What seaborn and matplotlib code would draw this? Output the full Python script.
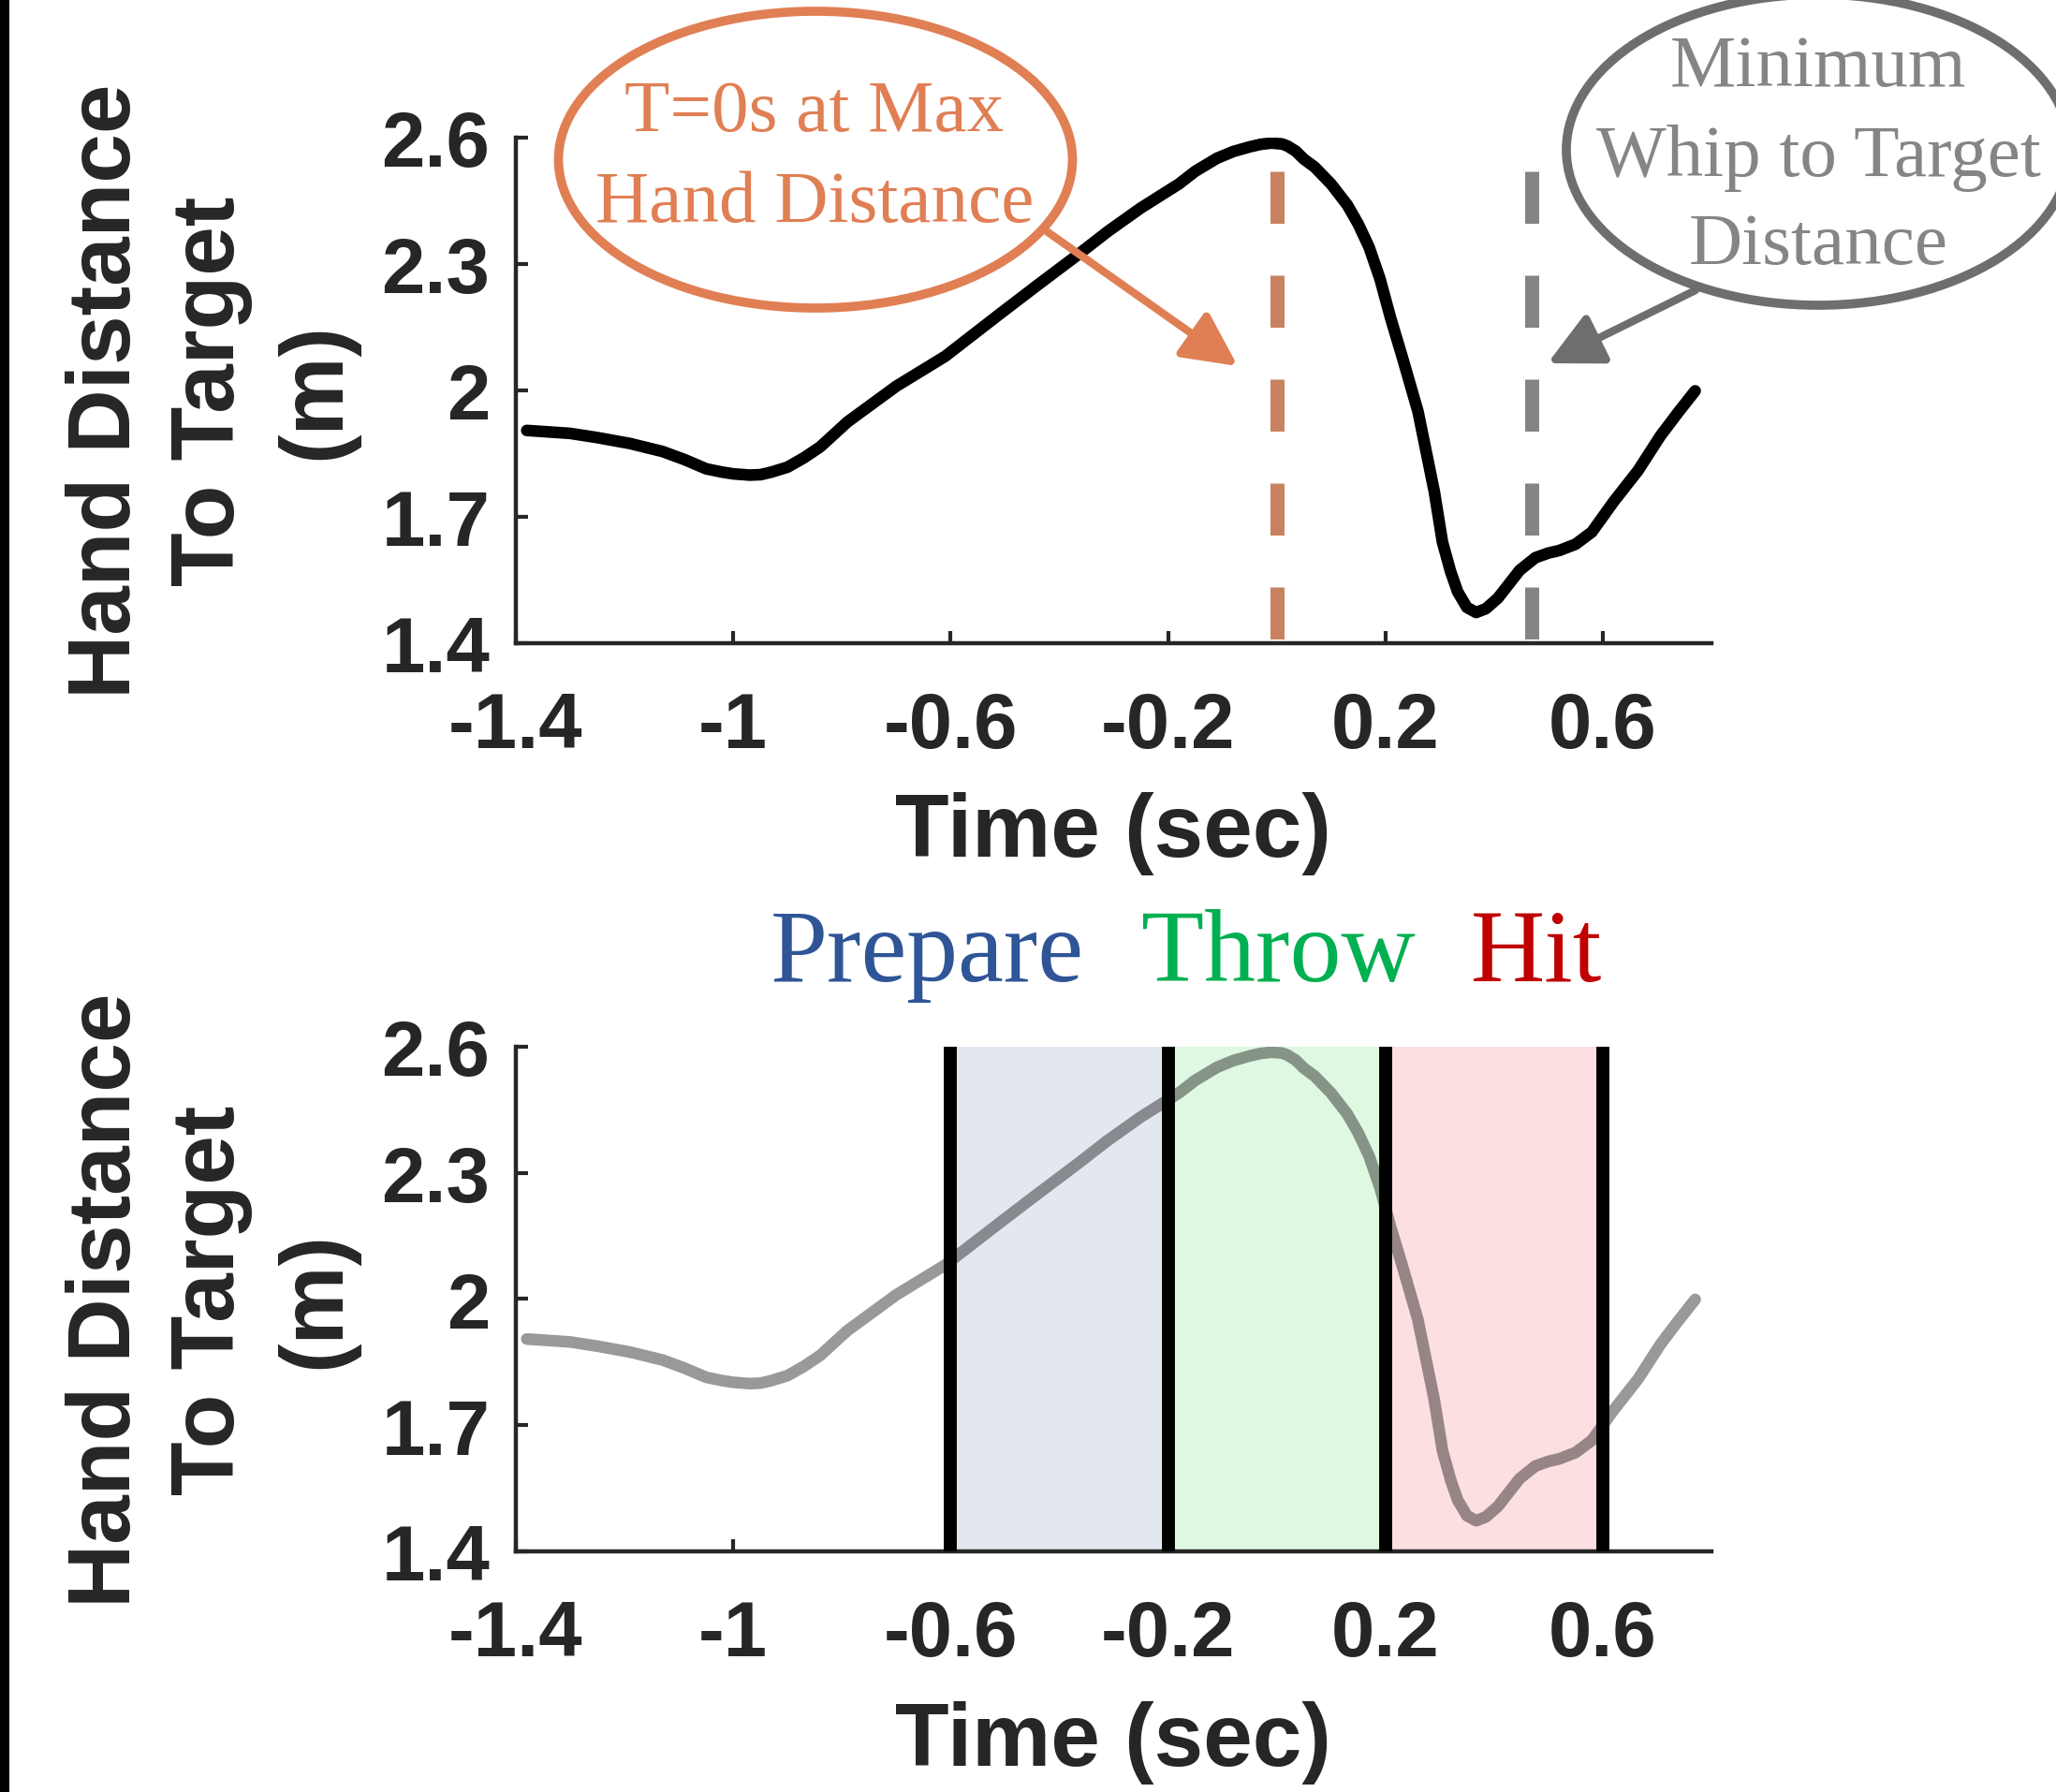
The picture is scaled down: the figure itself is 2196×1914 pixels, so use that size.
import matplotlib
matplotlib.use("Agg")
import matplotlib.pyplot as plt
import seaborn as sns
from matplotlib.patches import Ellipse, FancyArrowPatch, Rectangle

# ---------------- data ----------------
time_s = [-1.38, -1.30, -1.25, -1.19, -1.13, -1.09, -1.05, -1.02, -1.00, -0.97,
          -0.95, -0.93, -0.90, -0.87, -0.84, -0.79, -0.70, -0.61, -0.51, -0.44,
          -0.37, -0.31, -0.25, -0.18, -0.15, -0.11, -0.08, -0.05, -0.03, -0.01,
          0.01, 0.02, 0.035, 0.05, 0.07, 0.10, 0.13, 0.15, 0.17, 0.19,
          0.21, 0.23, 0.26, 0.29, 0.305, 0.32, 0.333, 0.35, 0.367, 0.385,
          0.407, 0.427, 0.447, 0.476, 0.50, 0.52, 0.55, 0.58, 0.62, 0.665,
          0.706, 0.74, 0.77]
hand_dist = [1.905, 1.898, 1.888, 1.874, 1.855, 1.836, 1.814, 1.806, 1.802, 1.799,
             1.800, 1.806, 1.818, 1.840, 1.866, 1.925, 2.010, 2.081, 2.181, 2.250,
             2.318, 2.378, 2.433, 2.490, 2.520, 2.551, 2.567, 2.578, 2.584, 2.587,
             2.585, 2.580, 2.568, 2.549, 2.530, 2.490, 2.440, 2.395, 2.340, 2.265,
             2.170, 2.084, 1.950, 1.760, 1.640, 1.570, 1.522, 1.485, 1.473, 1.482,
             1.507, 1.540, 1.573, 1.603, 1.614, 1.620, 1.635, 1.664, 1.736, 1.810,
             1.892, 1.950, 1.999]

x_ticks = [-1.4, -1.0, -0.6, -0.2, 0.2, 0.6]
x_tick_labels = ["-1.4", "-1", "-0.6", "-0.2", "0.2", "0.6"]
y_ticks = [1.4, 1.7, 2.0, 2.3, 2.6]
y_tick_labels = ["1.4", "1.7", "2", "2.3", "2.6"]

t_max_hand = 0.0
t_min_whip = 0.47
dash_top = 2.52

phase_names = ["Prepare", "Throw", "Hit"]
phase_bounds = [-0.6, -0.2, 0.2, 0.6]
phase_fill = ["#E3E7F0", "#DFF8E2", "#FCDFE0"]
phase_text_colors = ["#2F5597", "#00B050", "#C00000"]

ylabel_text = "Hand Distance\nTo Target\n(m)"
xlabel_text = "Time (sec)"
note_max = ["T=0s at Max", "Hand Distance"]
note_min = ["Minimum", "Whip to Target", "Distance"]

# ---------------- style ----------------
sns.set_theme(style="ticks")
plt.rcParams["font.family"] = ["Liberation Sans", "DejaVu Sans"]
SERIF = ["Liberation Serif", "DejaVu Serif"]
DARK = "#262626"
ORANGE = "#E07F54"
ORANGE_DASH = "#C8825F"
GRAY_ELL = "#6E6E6E"
GRAY_TXT = "#858585"
GRAY_DASH = "#848484"

W, H = 2196, 1915
fig = plt.figure(figsize=(W / 100, H / 100), dpi=100)
fig.patch.set_facecolor("white")


def fx(p):
    return p / W


def fy(p):
    return 1 - p / H


ax1 = fig.add_axes([fx(551), fy(688), (1828 - 551) / W, (688 - 148) / H])
ax2 = fig.add_axes([fx(551), fy(1658), (1828 - 551) / W, (1658 - 1119) / H])


def style(ax):
    ax.set_xlim(-1.4, 0.8)
    ax.set_ylim(1.4, 2.6)
    ax.set_xticks(x_ticks)
    ax.set_xticklabels(x_tick_labels)
    ax.set_yticks(y_ticks)
    ax.set_yticklabels(y_tick_labels)
    ax.set_facecolor("none")
    for s in ["top", "right"]:
        ax.spines[s].set_visible(False)
    for s in ["left", "bottom"]:
        ax.spines[s].set_linewidth(3.2)
        ax.spines[s].set_color(DARK)
    ax.tick_params(direction="in", length=9.5, width=3, colors=DARK, labelsize=60)
    ax.tick_params(axis="x", pad=36)
    ax.tick_params(axis="y", pad=20)
    for lab in ax.get_xticklabels() + ax.get_yticklabels():
        lab.set_fontweight("bold")
    ax.set_xlabel("")
    ax.set_ylabel("")


# ---------------- top panel ----------------
sns.lineplot(x=time_s, y=hand_dist, ax=ax1, color="black", lw=9, estimator=None,
             sort=False, zorder=3)
for ln in ax1.get_lines():
    ln.set_solid_joinstyle("round")
ax1.plot([t_max_hand, t_max_hand], [dash_top, 1.4], color=ORANGE_DASH, lw=10.8,
         ls=(0, (3.7, 3.7)), dash_capstyle="butt", zorder=2)
ax1.plot([t_min_whip, t_min_whip], [dash_top, 1.4], color=GRAY_DASH, lw=10.8,
         ls=(0, (3.7, 3.7)), dash_capstyle="butt", zorder=2)
style(ax1)

# ---------------- bottom panel ----------------
for i in range(3):
    ax2.axvspan(phase_bounds[i], phase_bounds[i + 1], color=phase_fill[i], lw=0, zorder=0)
sns.lineplot(x=time_s, y=hand_dist, ax=ax2, color="black", alpha=0.4, lw=9,
             estimator=None, sort=False, zorder=2)
for ln in ax2.get_lines():
    ln.set_solid_joinstyle("round")
for b in phase_bounds:
    ax2.axvline(b, color="black", lw=10, zorder=3)
style(ax2)

# ---------------- labels ----------------
for off in (0, 971):
    fig.text(fx(226), fy(418 + off), ylabel_text, rotation=90, ha="center", va="center",
             multialignment="center", linespacing=1.33, fontsize=68, fontweight="bold",
             color=DARK)
fig.text(fx(1189), fy(915), xlabel_text, ha="center", va="baseline", fontsize=68,
         fontweight="bold", color=DARK)
fig.text(fx(1189), fy(1886), xlabel_text, ha="center", va="baseline", fontsize=68,
         fontweight="bold", color=DARK)

# phase titles
phase_x = [823, 1219, 1571]
for name, col, px in zip(phase_names, phase_text_colors, phase_x):
    fig.text(fx(px), fy(1048), name, ha="left", va="baseline", fontsize=79,
             family=SERIF, color=col)

# ---------------- annotations ----------------
fig.add_artist(Ellipse((fx(871), fy(171.5)), 549 / W, 317 / H, transform=fig.transFigure,
                       fill=False, ec=ORANGE, lw=7))
for txt, base in zip(note_max, [140, 236.5]):
    fig.text(fx(870), fy(base), txt, ha="center", va="baseline", fontsize=57,
             family=SERIF, color=ORANGE)

fig.add_artist(Ellipse((fx(1942), fy(161)), 538 / W, 332 / H, transform=fig.transFigure,
                       fill=False, ec=GRAY_ELL, lw=7))
for txt, base in zip(note_min, [92, 188, 282]):
    fig.text(fx(1942), fy(base), txt, ha="center", va="baseline", fontsize=57,
             family=SERIF, color=GRAY_TXT)

fig.add_artist(FancyArrowPatch((fx(1115), fy(246)), (fx(1322), fy(392)),
                               transform=fig.transFigure,
                               arrowstyle="-|>,head_length=0.7,head_width=0.35",
                               mutation_scale=50, lw=6, color=ORANGE,
                               shrinkA=0, shrinkB=0))
fig.add_artist(FancyArrowPatch((fx(1811), fy(311)), (fx(1653), fy(389)),
                               transform=fig.transFigure,
                               arrowstyle="-|>,head_length=0.7,head_width=0.35",
                               mutation_scale=50, lw=6, color=GRAY_ELL,
                               shrinkA=0, shrinkB=0))

# black bar on the left edge
fig.add_artist(Rectangle((0, 0), 10 / W, 1, transform=fig.transFigure,
                         color="black", lw=0))

fig.savefig("out.png", dpi=100, facecolor="white")
